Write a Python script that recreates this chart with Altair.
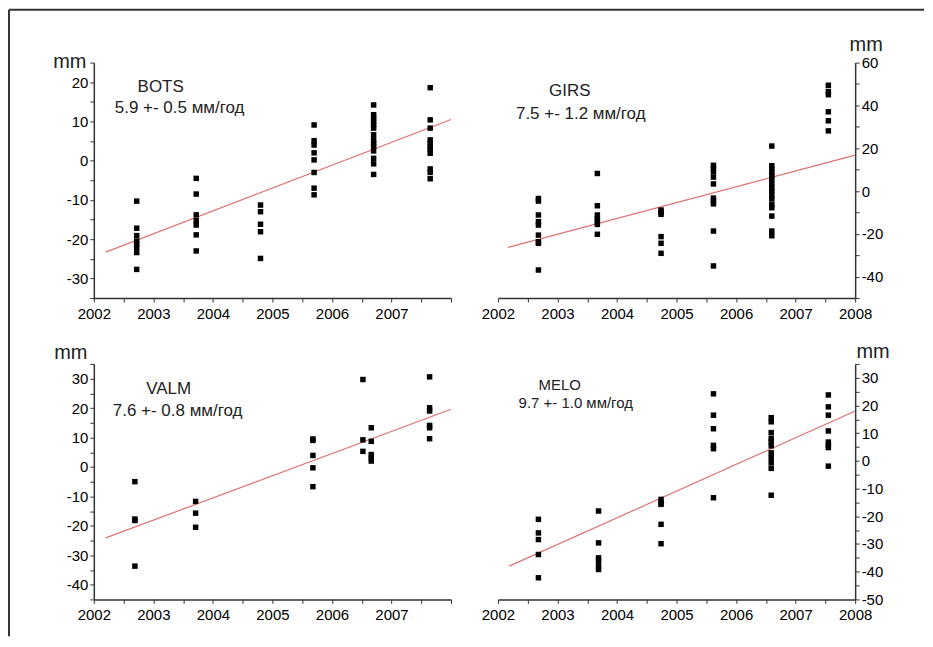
import altair as alt
import pandas as pd

# ---------------- data ----------------
x_tick_labels = [2002, 2003, 2004, 2005, 2006, 2007, 2008]

bots_epochs = [2002.72, 2003.72, 2004.80, 2005.70, 2006.70, 2007.65]
bots_values = [
    [-10.3, -17.2, -19.1, -20.5, -21.3, -22.2, -23.4, -27.7],
    [-4.5, -8.5, -13.8, -15.3, -16.4, -18.9, -23.0],
    [-11.3, -13.0, -16.2, -18.1, -24.9],
    [9.1, 5.1, 4.0, 2.0, 0.2, -3.0, -7.0, -8.7],
    [14.2, 11.7, 10.8, 10.0, 9.1, 8.3, 6.6, 5.3, 4.4, 3.6, 2.5, 0.6, -0.8, -3.5],
    [18.6, 10.4, 8.3, 5.3, 4.4, 3.6, 2.8, 1.9, -2.1, -3.0, -4.6],
]
bots_trend_x = [2002.2, 2008.0]
bots_trend_y = [-23.3, 10.5]

girs_epochs = [2002.68, 2003.67, 2004.74, 2005.62, 2006.60, 2007.55]
girs_values = [
    [-3.5, -4.7, -11.2, -14.3, -15.9, -20.6, -23.7, -24.4, -36.9],
    [8.2, -6.9, -11.2, -12.8, -14.3, -15.6, -20.2],
    [-8.9, -10.0, -10.9, -21.3, -24.4, -29.1],
    [12.0, 10.5, 9.0, 6.5, 3.3, -3.3, -4.8, -6.0, -18.7, -35.0],
    [21.0, 11.8, 10.3, 8.7, 7.1, 5.6, 3.5, 1.5, 0.0, -1.9, -3.7, -6.3, -7.8, -11.7, -18.7, -20.9],
    [49.4, 46.5, 45.0, 37.0, 32.8, 28.1],
]
girs_trend_x = [2002.17, 2008.0]
girs_trend_y = [-26.3, 16.8]

valm_epochs = [2002.69, 2003.71, 2005.68, 2006.52, 2006.66, 2007.64]
valm_values = [
    [-5.0, -17.7, -18.2, -33.7],
    [-11.7, -15.7, -20.5],
    [9.5, 9.0, 3.9, -0.3, -6.7],
    [29.7, 9.2, 5.3],
    [13.3, 8.7, 4.2, 3.1, 2.0],
    [30.6, 20.1, 19.0, 14.1, 13.3, 9.6],
]
valm_trend_x = [2002.2, 2008.0]
valm_trend_y = [-24.1, 19.6]

melo_epochs = [2002.68, 2003.69, 2004.74, 2005.62, 2006.59, 2007.55]
melo_values = [
    [-21.1, -26.0, -28.4, -33.8, -42.2],
    [-18.1, -29.6, -35.0, -36.2, -38.0, -39.2],
    [-13.9, -15.1, -15.7, -22.9, -29.9],
    [24.2, 16.5, 11.6, 5.6, 4.4, -13.3],
    [15.6, 14.1, 10.2, 8.1, 6.9, 5.4, 2.9, 1.1, -0.7, -2.7, -12.4],
    [23.8, 19.5, 16.5, 10.8, 6.8, 5.7, 4.8, -1.9],
]
melo_trend_x = [2002.19, 2008.0]
melo_trend_y = [-38.0, 18.0]

names = ["BOTS", "GIRS", "VALM", "MELO"]
rates = ["5.9 +- 0.5 мм/год", "7.5 +- 1.2 мм/год", "7.6 +- 0.8 мм/год", "9.7 +- 1.0 мм/год"]
unit = "mm"

# ---------------- styling ----------------
FONT = "Liberation Sans, Arial, sans-serif"
W, H = 358, 236
PT_COLOR = "#000000"
LINE_COLOR = "#e07070"
AX_COLOR = "#333333"


def panel(name, rate, epochs, values, tx, ty, ydom, ystep, ylab, side,
          show2008, title_xy, title_size, rate_xy, rate_size, mm_xy, frame=False):
    pts = pd.DataFrame(
        [{"year": e, "mm": v} for e, vals in zip(epochs, values) for v in vals]
    )
    trend = pd.DataFrame({"year": tx, "mm": ty})

    xticks = []
    for yr in x_tick_labels:
        xticks.append(yr)
        if yr < x_tick_labels[-1]:
            xticks.append(yr + 0.5)
    maxlab = 2008 if show2008 else 2007
    xexpr = f"(datum.value % 1 == 0 && datum.value <= {maxlab}) ? ('' + datum.value) : ''"

    n = int(round((ydom[1] - ydom[0]) / ystep))
    yticks = [ydom[0] + i * ystep for i in range(n + 1)]
    yexpr = f"datum.value % {ylab} == 0 ? ('' + datum.value) : ''"

    xscale = alt.Scale(domain=[2002, 2008], nice=False, zero=False)
    yscale = alt.Scale(domain=ydom, nice=False, zero=False)
    common = dict(
        title=None, grid=False, domainColor=AX_COLOR, domainWidth=1.5,
        tickColor=AX_COLOR, tickWidth=1, tickSize=4, labelFont=FONT,
        labelFontSize=15, labelColor="#000000",
        labelFlush=False, labelOverlap=False, labelBound=False,
    )
    xaxis = alt.Axis(values=xticks, labelExpr=xexpr, orient="bottom", labelPadding=4, **common)
    yaxis = alt.Axis(values=yticks, labelExpr=yexpr, orient=side, labelPadding=2, **common)

    points = alt.Chart(pts).mark_square(size=30, color=PT_COLOR, opacity=1).encode(
        x=alt.X("year:Q", scale=xscale, axis=xaxis),
        y=alt.Y("mm:Q", scale=yscale, axis=yaxis),
    )
    line = alt.Chart(trend).mark_line(color=LINE_COLOR, strokeWidth=1.2).encode(
        x=alt.X("year:Q", scale=xscale, axis=xaxis),
        y=alt.Y("mm:Q", scale=yscale, axis=yaxis),
    )

    def label(txt, xy, size):
        return alt.Chart(pd.DataFrame({"t": [txt]})).mark_text(
            font=FONT, fontSize=size, color="#222222", align="center",
            baseline="alphabetic"
        ).encode(text="t:N", x=alt.value(xy[0]), y=alt.value(xy[1]))

    layers = [line, points,
              label(name, title_xy, title_size),
              label(rate, rate_xy, rate_size),
              label(unit, mm_xy, 20)]

    if frame:
        one = pd.DataFrame({"k": [0]})
        top = alt.Chart(one).mark_rule(color="#333333", strokeWidth=2).encode(
            x=alt.value(-85), x2=alt.value(832), y=alt.value(-53)
        )
        left = alt.Chart(one).mark_rule(color="#333333", strokeWidth=2).encode(
            x=alt.value(-85), y=alt.value(-53), y2=alt.value(575)
        )
        layers = [top, left] + layers

    return alt.layer(*layers).properties(width=W, height=H)


p1 = panel(names[0], rates[0], bots_epochs, bots_values, bots_trend_x, bots_trend_y,
           [-35, 25], 5, 10, "left", False, (67, 29), 17, (86, 51), 17, (-24, 5), frame=True)
p2 = panel(names[1], rates[1], girs_epochs, girs_values, girs_trend_x, girs_trend_y,
           [-50, 60], 10, 20, "right", True, (72, 34), 17, (83, 57), 17, (W + 11, -12))
p3 = panel(names[2], rates[2], valm_epochs, valm_values, valm_trend_x, valm_trend_y,
           [-45, 35], 5, 10, "left", False, (75, 30), 17, (84, 52), 17, (-23, -5))
p4 = panel(names[3], rates[3], melo_epochs, melo_values, melo_trend_x, melo_trend_y,
           [-50, 35], 5, 10, "right", True, (62, 26), 15, (78, 44), 15, (W + 18, -6))

chart = alt.concat(p1, p2, p3, p4, columns=2, spacing={"row": 66, "column": 47},
                   bounds="flush").properties(padding=0, background="white"
                   ).configure_view(stroke=None
                   ).configure_axis(labelOverlap=False)

chart.save("out.html", embed_options={"renderer": "svg", "actions": False})
